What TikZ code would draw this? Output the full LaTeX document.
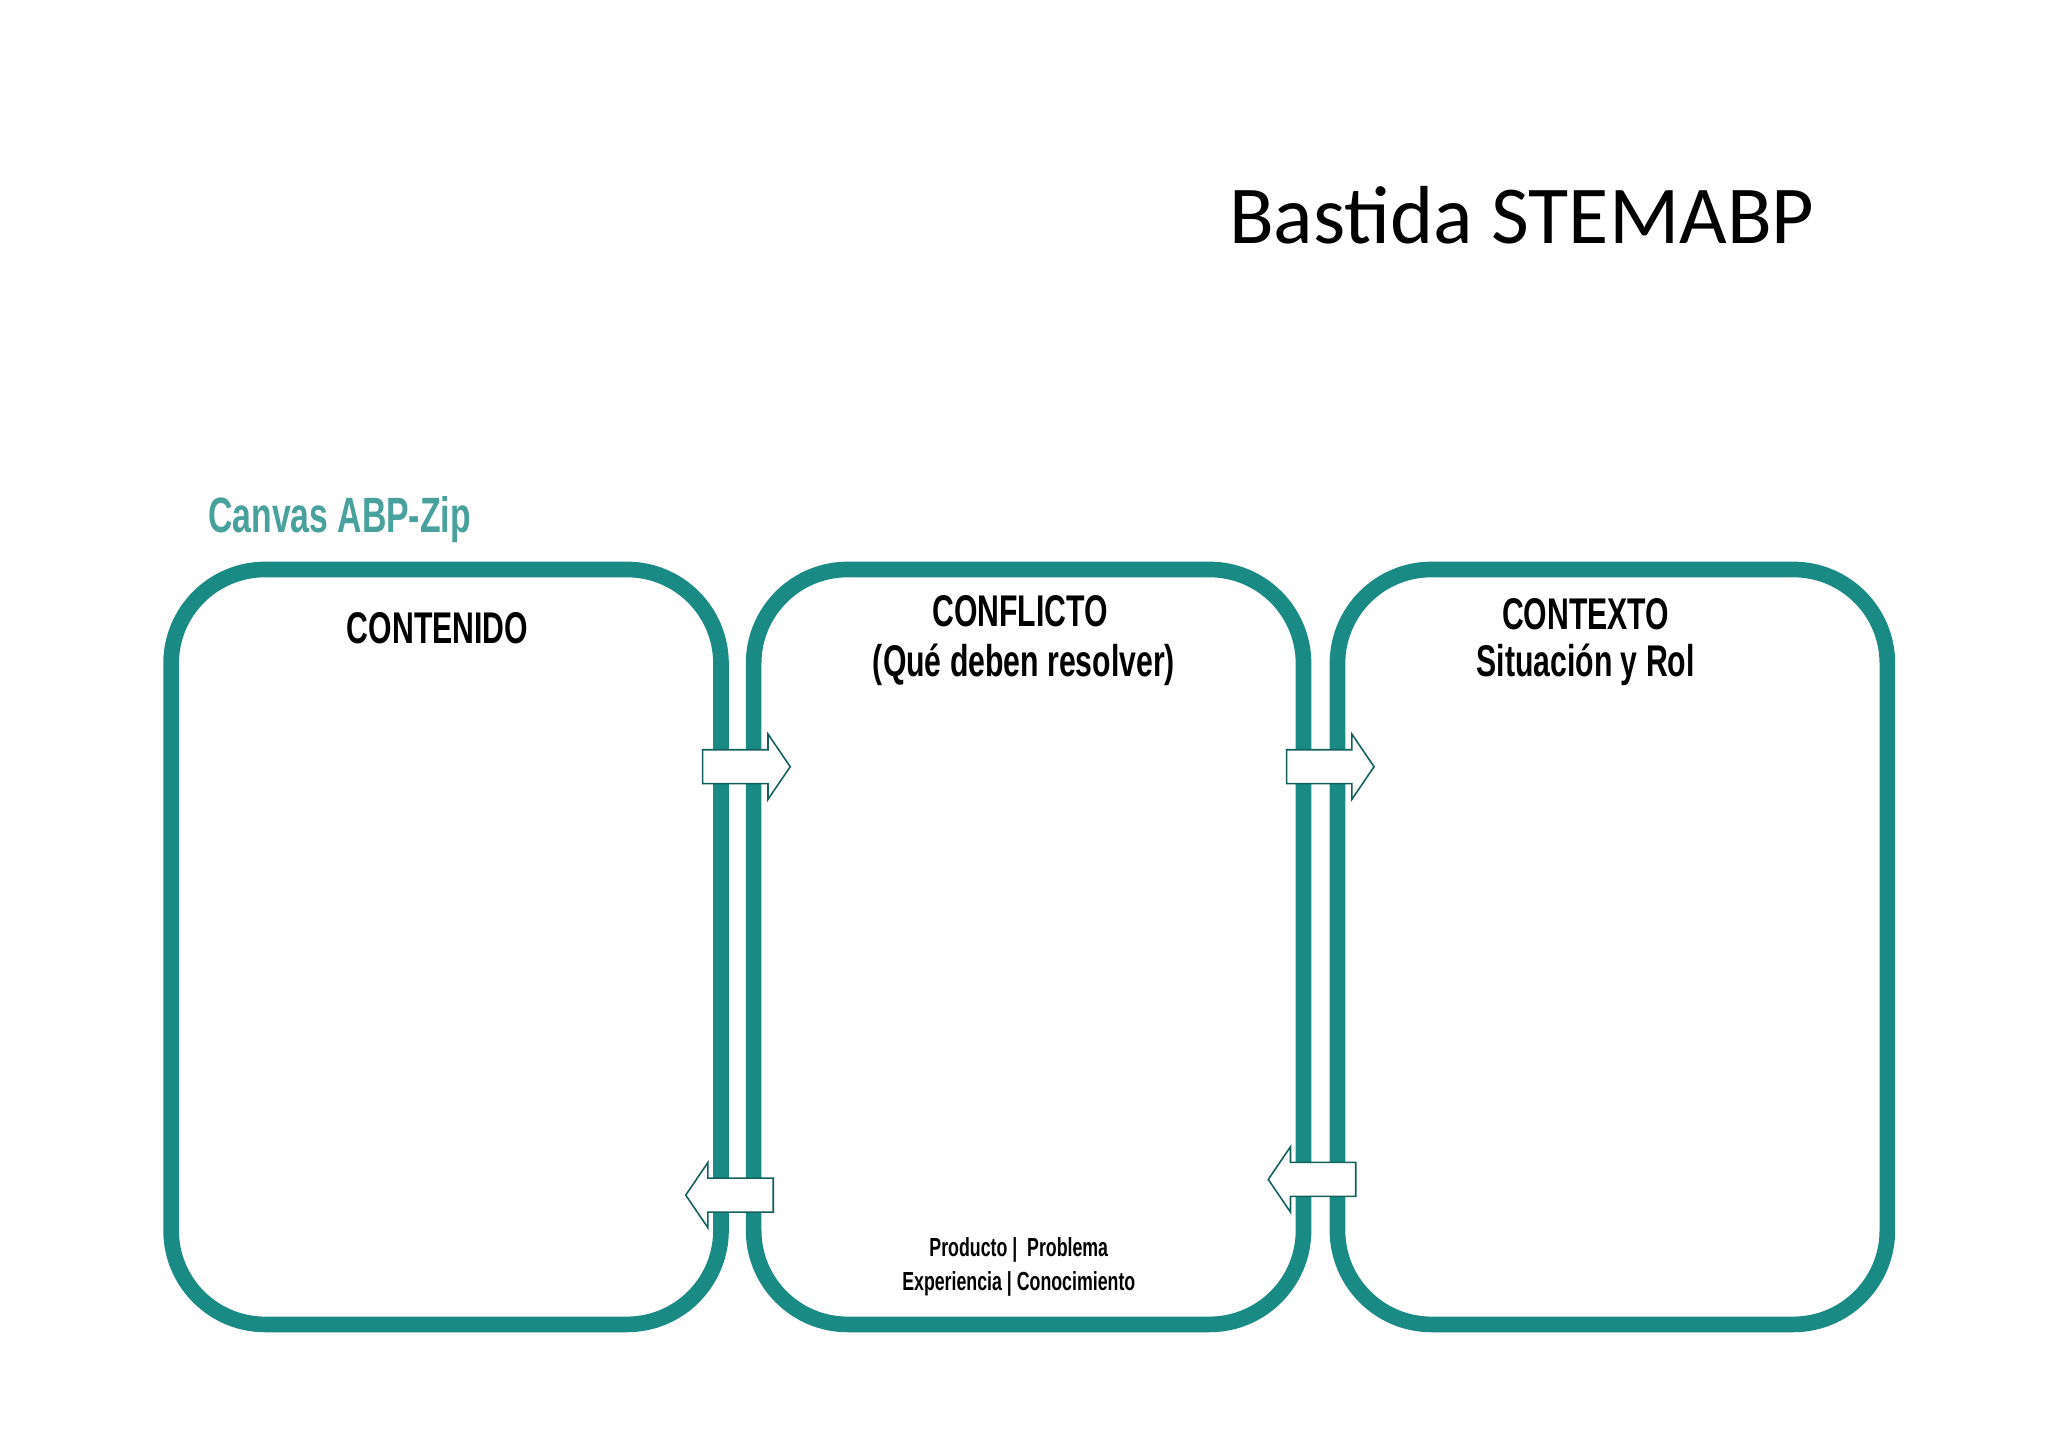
\documentclass[tikz,border=0pt]{standalone}
\usepackage{fontspec}
\setmainfont{Carlito}
\newfontfamily\cond[FakeStretch=0.68]{Liberation Sans}
\definecolor{teal1}{HTML}{1A8A85}
\begin{document}
\begin{tikzpicture}[x=0.5pt,y=-0.5pt,
  panel/.style={draw=teal1,line width=6pt,rounded corners=36pt},
  arr/.style={draw=teal1!70!black,fill=white,line width=0.6pt},
  lbl/.style={font=\cond\bfseries\fontsize{17}{20}\selectfont,align=center,inner sep=0}]
\useasboundingbox (0,0) rectangle (1568,1108);
\node[font=\fontsize{31.5}{36}\selectfont,inner sep=0] (title) at (1165,165) {Bastida STEMABP};
\node[font=\cond\bfseries\fontsize{19}{22}\selectfont,text=teal1!80!white,inner sep=0] (canvas) at (260,398) {Canvas ABP-Zip};
\draw[panel] (131,436) rectangle (552,1014);
\draw[panel] (577,436) rectangle (998,1014);
\draw[panel] (1024,436) rectangle (1445,1014);
\node[lbl] (t1) at (335,481) {CONTENIDO};
\node[lbl] (t2) at (781,468) {CONFLICTO};
\node[lbl] (t2b) at (784,509) {(Qué deben resolver)};
\node[lbl] (t3) at (1214,470) {CONTEXTO};
\node[lbl] (t3b) at (1214,509) {Situación y Rol};
\node[lbl,font=\cond\bfseries\fontsize{10}{13}\selectfont] (t4) at (780,970) {Producto \textbar\ \ Problema\\Experiencia \textbar\ Conocimiento};
\draw[arr] (538,574)--(588,574)--(588,562)--(605,587)--(588,612)--(588,600)--(538,600)--cycle;
\draw[arr] (985,574)--(1035,574)--(1035,562)--(1052,587)--(1035,612)--(1035,600)--(985,600)--cycle;
\draw[arr] (592,902)--(542,902)--(542,890)--(525,915)--(542,940)--(542,928)--(592,928)--cycle;
\draw[arr] (1038,890)--(988,890)--(988,878)--(971,903)--(988,928)--(988,916)--(1038,916)--cycle;
\end{tikzpicture}
\end{document}
